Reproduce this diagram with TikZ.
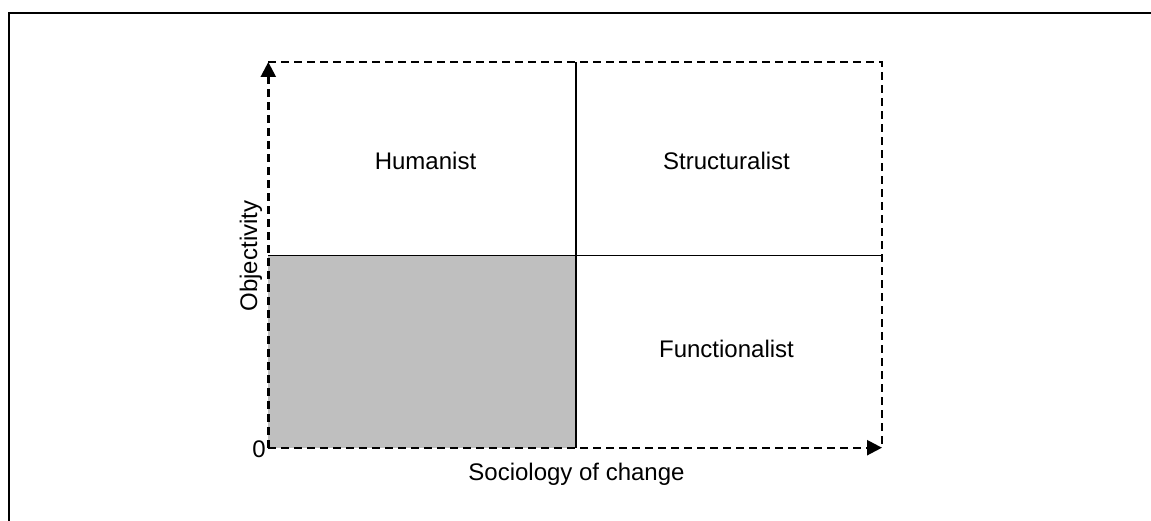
\documentclass[tikz,border=0pt]{standalone}
\usepackage{fontspec}
\setmainfont{Liberation Sans}
\usetikzlibrary{arrows.meta}
\tikzset{
  lbl/.style={anchor=base, inner sep=0pt, font=\fontsize{24}{28}\selectfont},
  axisline/.style={line width=2.4pt, dash pattern=on 8pt off 5pt},
  divline/.style={line width=1.6pt},
  tip/.style={-{Triangle[length=15pt,width=15pt]}}
}
\begin{document}
\begin{tikzpicture}[x=1pt,y=-1pt]
\useasboundingbox (0,0) rectangle (1151,521);
% outer frame (left and top visible)
\draw[line width=2.2pt] (9,521) -- (9,12.7) -- (1151,12.7);
% coordinates
\coordinate (O) at (268.3,447.7);
\coordinate (TL) at (268.3,62);
\coordinate (TR) at (882,62);
\coordinate (BR) at (882,447.7);
\coordinate (MT) at (576,62);
\coordinate (MB) at (576,447.7);
\coordinate (ML) at (268.3,255.5);
\coordinate (MR) at (882,255.5);
\coordinate (C) at (576,255.5);
% shaded quadrant
\fill[fill={rgb,255:red,191;green,191;blue,191}] (ML) rectangle (MB);
% dividers
\draw[divline] (MT) -- (MB);
\draw[divline] (ML) -- (MR);
% dashed box edges
\draw[axisline] (TL) -- (TR) -- (BR);
% axes
\draw[axisline, tip] (O) -- (TL);
\draw[axisline, tip] (O) -- (BR);
% labels
\node[lbl] (hum) at (425.5,170) {Humanist};
\node[lbl] (str) at (726.5,170) {Structuralist};
\node[lbl] (fun) at (726.5,357.5) {Functionalist};
\node[lbl] (soc) at (576.5,480) {Sociology of change};
\node[lbl] (zero) at (259,457) {0};
\node[lbl, rotate=90] (obj) at (257,256) {Objectivity};
\end{tikzpicture}
\end{document}
